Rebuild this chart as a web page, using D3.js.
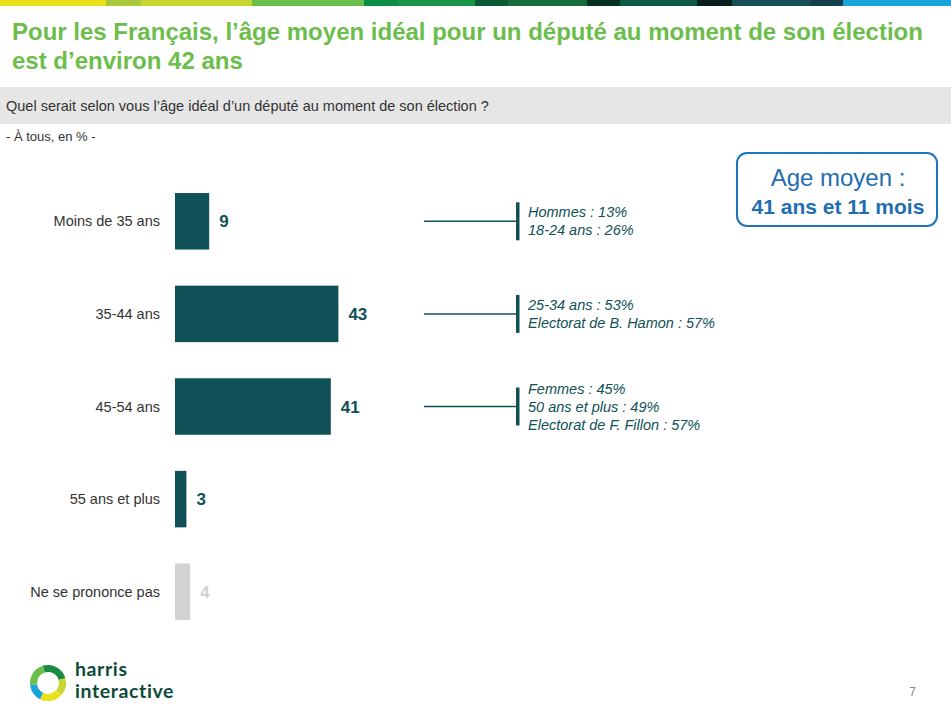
<!DOCTYPE html>
<html>
<head>
<meta charset="utf-8">
<script src="https://cdn.jsdelivr.net/npm/d3@7"></script>
<style>
  body { margin: 0; background: #fff; }
  svg { display: block; font-family: Arial, "Liberation Sans", sans-serif; }
</style>
</head>
<body>
<svg id="chart" width="951" height="715"></svg>
<script>
'use strict';

// data
const categories = ["Moins de 35 ans", "35-44 ans", "45-54 ans", "55 ans et plus", "Ne se prononce pas"];
const values = [9, 43, 41, 3, 4];
const noAnswer = [false, false, false, false, true];

const notes = [
  ["Hommes : 13%", "18-24 ans : 26%"],
  ["25-34 ans : 53%", "Electorat de B. Hamon : 57%"],
  ["Femmes : 45%", "50 ans et plus : 49%", "Electorat de F. Fillon : 57%"],
  [],
  []
];

const stripeColors = ["#e9e21b", "#a9c73b", "#c6d530", "#6cbe4c", "#0b8e47", "#179447", "#0b5a36",
  "#166b3c", "#043121", "#105a46", "#07201b", "#164f58", "#133e4e", "#1ba3dc"];
const stripeStops = [0, 106, 141, 252, 364, 397, 475, 508, 587, 620, 697, 732, 810, 843, 951];

const teal = "#0f5156";
const grey = "#d2d2d2";

const svg = d3.select("#chart");

// top colour stripe
svg.append("g").selectAll("rect")
  .data(stripeColors)
  .enter().append("rect")
    .attr("x", (d, i) => stripeStops[i])
    .attr("y", 0)
    .attr("width", (d, i) => stripeStops[i + 1] - stripeStops[i])
    .attr("height", 6)
    .attr("fill", d => d);

// title
const title = svg.append("text")
  .attr("fill", "#6cbe4c")
  .attr("font-size", 24)
  .attr("font-weight", "bold");
title.append("tspan").attr("x", 12).attr("y", 40)
  .text("Pour les Français, l’âge moyen idéal pour un député au moment de son élection");
title.append("tspan").attr("x", 12).attr("y", 69).text("est d’environ 42 ans");

// question band
svg.append("rect").attr("x", 0).attr("y", 87).attr("width", 951).attr("height", 37).attr("fill", "#e6e6e6");
svg.append("text").attr("x", 6).attr("y", 111).attr("font-size", 14.5).attr("fill", "#333")
  .text("Quel serait selon vous l’âge idéal d’un député au moment de son élection ?");
svg.append("text").attr("x", 6).attr("y", 141).attr("font-size", 13).attr("fill", "#333")
  .text("- À tous, en % -");

// bars
const x = d3.scaleLinear().domain([0, 10]).range([175, 213]);
const y = d3.scaleBand().domain(categories).range([175, 638]).paddingInner(0.39).paddingOuter(0.195);

const rows = svg.append("g").selectAll("g")
  .data(categories)
  .enter().append("g");

rows.append("rect")
  .attr("x", x(0))
  .attr("y", d => y(d))
  .attr("width", (d, i) => x(values[i]) - x(0))
  .attr("height", y.bandwidth())
  .attr("fill", (d, i) => noAnswer[i] ? grey : teal);

rows.append("text")
  .attr("x", 160)
  .attr("y", d => y(d) + y.bandwidth() / 2)
  .attr("dy", "0.35em")
  .attr("text-anchor", "end")
  .attr("font-size", 14.5)
  .attr("fill", "#333")
  .text(d => d);

rows.append("text")
  .attr("x", (d, i) => x(values[i]) + 10)
  .attr("y", d => y(d) + y.bandwidth() / 2)
  .attr("dy", "0.36em")
  .attr("font-size", 17)
  .attr("font-weight", "bold")
  .attr("fill", (d, i) => noAnswer[i] ? grey : teal)
  .text((d, i) => values[i]);

// sub-group notes
const lineGap = 18;
const noteRows = rows.filter((d, i) => notes[i].length > 0);

noteRows.append("line")
  .attr("x1", 424).attr("x2", 517)
  .attr("y1", d => y(d) + y.bandwidth() / 2)
  .attr("y2", d => y(d) + y.bandwidth() / 2)
  .attr("stroke", teal)
  .attr("stroke-width", 1.5);

noteRows.append("rect")
  .attr("x", 516)
  .attr("width", 3.5)
  .attr("y", d => y(d) + y.bandwidth() / 2 - 19)
  .attr("height", 38)
  .attr("fill", teal);

noteRows.each(function(d) {
  const i = categories.indexOf(d);
  const lines = notes[i];
  const cy = y(d) + y.bandwidth() / 2;
  const top = cy - (lines.length - 1) * lineGap / 2;
  d3.select(this).selectAll("text.note")
    .data(lines)
    .enter().append("text")
      .attr("class", "note")
      .attr("x", 528)
      .attr("y", (t, j) => top + j * lineGap)
      .attr("dy", "0.35em")
      .attr("font-size", 14.5)
      .attr("font-style", "italic")
      .attr("fill", teal)
      .text(t => t);
});

// mean age box
svg.append("rect")
  .attr("x", 737).attr("y", 153).attr("width", 200).attr("height", 73)
  .attr("rx", 10)
  .attr("fill", "#fff")
  .attr("stroke", "#1f74bb")
  .attr("stroke-width", 2);
svg.append("text").attr("x", 838).attr("y", 186).attr("text-anchor", "middle")
  .attr("font-size", 24).attr("fill", "#1f6db3").text("Age moyen :");
svg.append("text").attr("x", 838).attr("y", 214).attr("text-anchor", "middle")
  .attr("font-size", 21).attr("font-weight", "bold").attr("fill", "#1f6db3").text("41 ans et 11 mois");

// logo
const logo = svg.append("g").attr("transform", "translate(48,683)");
const arc = d3.arc().innerRadius(11).outerRadius(18);
const ringParts = [
  { s: -0.3, e: 1.3, c: "#1b8a45" },
  { s: 1.3, e: 2.3, c: "#c6d530" },
  { s: 2.3, e: 3.6, c: "#e9e21b" },
  { s: 3.6, e: 4.6, c: "#1ba3dc" },
  { s: 4.6, e: 5.98, c: "#6cbe4c" }
];
logo.selectAll("path")
  .data(ringParts)
  .enter().append("path")
    .attr("d", d => arc({ startAngle: d.s, endAngle: d.e }))
    .attr("fill", d => d.c);

const brand = svg.append("g").attr("fill", "#0d4a3b").attr("font-size", 19.5).attr("font-weight", "bold")
  .attr("letter-spacing", 0.6)
  .attr("font-family", "Lato, Arial, sans-serif");
brand.append("text").attr("x", 75).attr("y", 676).text("harris");
brand.append("text").attr("x", 75).attr("y", 698).text("interactive");

svg.append("text").attr("x", 916).attr("y", 696).attr("text-anchor", "end")
  .attr("font-size", 12).attr("fill", "#888").text("7");
</script>
</body>
</html>
